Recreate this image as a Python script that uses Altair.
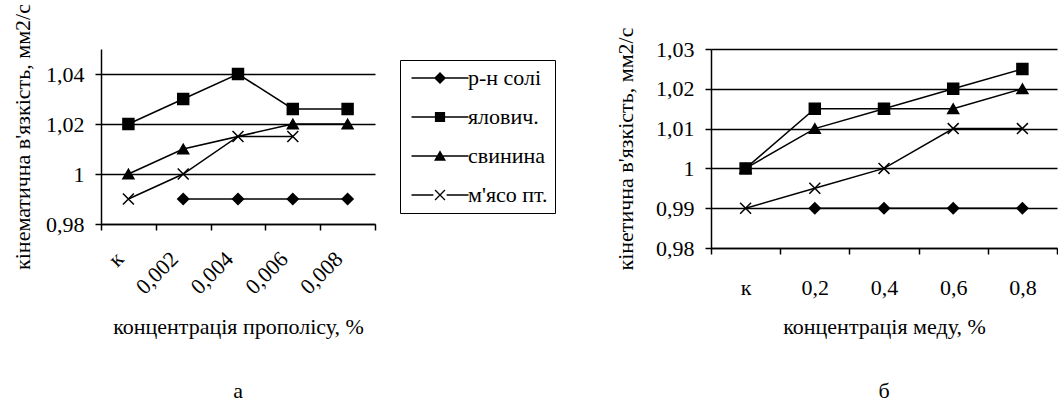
import altair as alt
import pandas as pd

SERIES = ["р-н солі", "ялович.", "свинина", "м'ясо пт."]

cats_a = ["к", "0,002", "0,004", "0,006", "0,008"]
a_salt = [None, 0.99, 0.99, 0.99, 0.99]
a_beef = [1.02, 1.03, 1.04, 1.026, 1.026]
a_pork = [1.0, 1.01, None, 1.02, 1.02]
a_poultry = [0.99, 1.0, 1.015, 1.015, None]

cats_b = ["к", "0,2", "0,4", "0,6", "0,8"]
b_salt = [None, 0.99, 0.99, 0.99, 0.99]
b_beef = [1.0, 1.015, 1.015, 1.02, 1.025]
b_pork = [1.0, 1.01, 1.015, 1.015, 1.02]
b_poultry = [0.99, 0.995, 1.0, 1.01, 1.01]

FONT = "'Liberation Serif', 'Times New Roman', serif"
FS = 22

def make_df(cats, salt, beef, pork, poultry):
    rows = []
    # drawing order: poultry, pork, beef, salt
    for name, vals in [(SERIES[3], poultry), (SERIES[2], pork), (SERIES[1], beef), (SERIES[0], salt)]:
        for c, v in zip(cats, vals):
            if v is not None:
                rows.append({"cat": c, "val": v, "series": name})
    return pd.DataFrame(rows)

X_PATH = "M-1,-1L1,1M-1,1L1,-1"
POINT_SHAPES = ["diamond", "square", "triangle-up", X_PATH]
LINE_L = "M-4.75,-0.12H-1.1V0.12H-4.75Z"
LINE_R = "M1.1,-0.12H4.75V0.12H1.1Z"
LINE_FULL = "M-4.75,-0.12H4.75V0.12H-4.75Z"
LEG_SHAPES = [
    LINE_FULL + "M-1,0L0,-1L1,0L0,1Z",
    LINE_FULL + "M-0.85,-0.85H0.85V0.85H-0.85Z",
    LINE_FULL + "M-1,0.8L0,-0.95L1,0.8Z",
    LINE_L + LINE_R
    + "M-0.9,-0.75L-0.75,-0.9L0.9,0.75L0.75,0.9Z"
    + "M0.75,-0.9L0.9,-0.75L-0.75,0.9L-0.9,0.75Z",
]

def panel(df, cats, ydomain, yvals, ytitle, xtitle, rotate, width, height, label, with_legend,
          xtitle_y, title_offset, ytitle_pad):
    if rotate:
        xaxis = alt.Axis(title=xtitle, labelAngle=-45, labelAlign="right", labelBaseline="middle",
                         labelPadding=25, labelOffset=-9, tickBand="extent", tickSize=6,
                         titleY=xtitle_y, titleBaseline="alphabetic")
    else:
        xaxis = alt.Axis(title=xtitle, labelAngle=0, labelPadding=23, tickBand="extent", tickSize=6,
                         titleY=xtitle_y, titleBaseline="alphabetic")
    x = alt.X("cat:N", sort=cats, scale=alt.Scale(type="band", domain=cats, paddingInner=0, paddingOuter=0),
              axis=xaxis)
    y = alt.Y("val:Q", scale=alt.Scale(domain=ydomain, nice=False, zero=False),
              axis=alt.Axis(title=ytitle, values=yvals, grid=True, tickSize=6, labelPadding=11,
                            titlePadding=ytitle_pad,
                            labelExpr="replace(format(datum.value, '.3~r'), '.', ',')"))
    base = alt.Chart(df)
    lines = base.mark_line(color="black", strokeWidth=1.5).encode(x=x, y=y, detail="series:N")
    pts = base.mark_point(filled=True, fill="black", stroke="black", strokeWidth=1.5, size=120, opacity=1).encode(
        x=x, y=y,
        shape=alt.Shape("series:N", scale=alt.Scale(domain=SERIES, range=POINT_SHAPES), legend=None),
    )
    layers = [lines, pts]
    if with_legend:
        leg = base.mark_point(filled=True, fill="black", opacity=1).encode(
            x=x, y=y,
            shape=alt.Shape("series:N", scale=alt.Scale(domain=SERIES, range=LEG_SHAPES),
                            legend=alt.Legend(title=None, orient="none", legendX=299, legendY=11,
                                              strokeColor="black", fillColor="white", padding=7,
                                              labelFont=FONT, labelFontSize=FS, labelColor="black",
                                              symbolSize=144, symbolOffset=22, labelOffset=17,
                                              rowPadding=17, symbolFillColor="black",
                                              symbolOpacity=1)),
        ).transform_filter("false")
        layers.append(leg)
    ch = alt.layer(*layers).resolve_scale(shape="independent").properties(
        width=width, height=height,
        title=alt.TitleParams(label, orient="bottom", frame="group", anchor="middle", offset=title_offset,
                              font=FONT, fontSize=FS, fontWeight="normal", color="black"),
    )
    return ch

df_a = make_df(cats_a, a_salt, a_beef, a_pork, a_poultry)
df_b = make_df(cats_b, b_salt, b_beef, b_pork, b_poultry)

left = panel(df_a, cats_a, [0.98, 1.05], [0.98, 1.0, 1.02, 1.04], "кінематична в'язкість, мм2/с",
             "концентрація прополісу, %", True, 274, 175, "а", True, 109, 44, 11)
right = panel(df_b, cats_b, [0.98, 1.03], [0.98, 0.99, 1.0, 1.01, 1.02, 1.03], "кінетична в'язкість, мм2/с",
              "концентрація меду, %", False, 346, 199, "б", False, 85, 44, 18)

chart = alt.hconcat(left, right, spacing=336, bounds="flush").properties(
    padding={"left": 11, "top": 3, "right": 0, "bottom": 0}
).configure(font=FONT).configure_view(stroke=None).configure_axis(
    domainColor="black", domainWidth=1.5, tickColor="black", tickWidth=1.5,
    gridColor="black", gridWidth=1.3, labelColor="black", titleColor="black",
    labelFont=FONT, labelFontSize=FS, titleFont=FONT, titleFontSize=FS, titleFontWeight="normal",
).configure_legend(labelFont=FONT)

chart.save("out.html", embed_options={"renderer": "svg", "actions": False})
